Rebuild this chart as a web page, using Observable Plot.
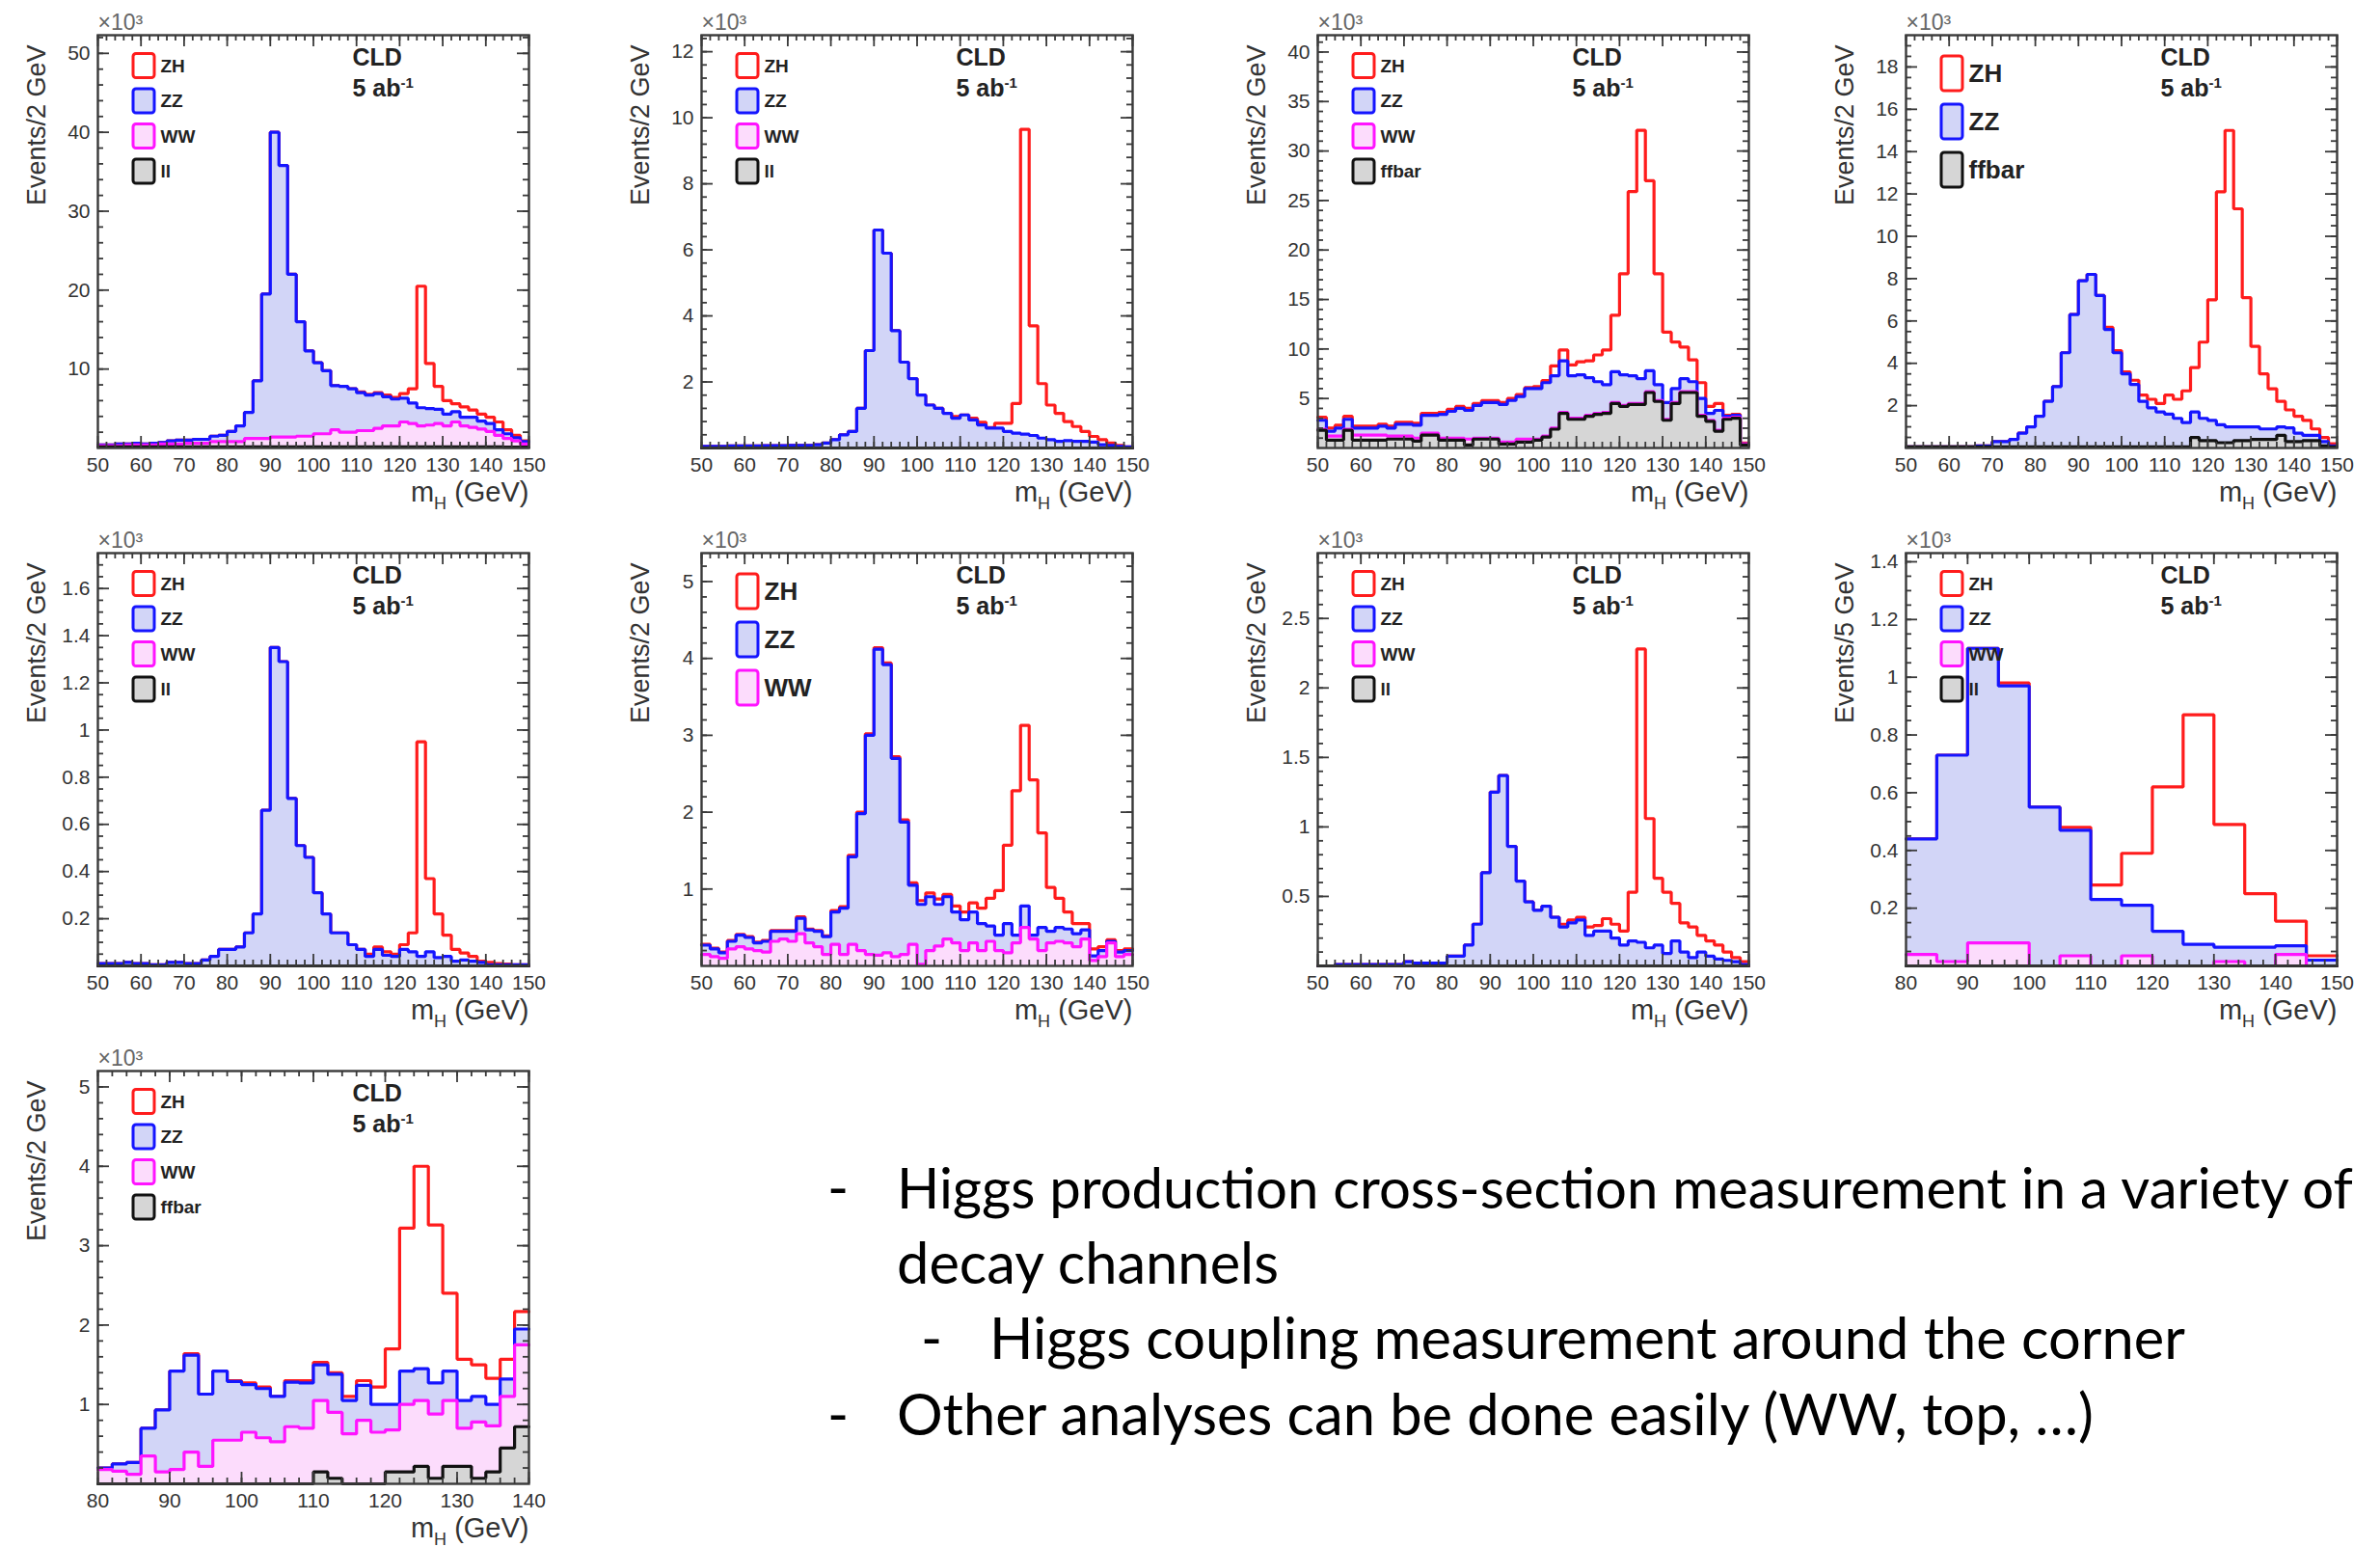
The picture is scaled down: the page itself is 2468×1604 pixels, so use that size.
<!DOCTYPE html>
<html><head><meta charset="utf-8">
<script src="https://cdn.jsdelivr.net/npm/d3@7"></script>
<script src="https://cdn.jsdelivr.net/npm/@observablehq/plot@0.6"></script>
<style>
html,body{margin:0;padding:0;background:#fff;}
body{width:2468px;height:1604px;position:relative;overflow:hidden;}
.panel{position:absolute;}
.panel svg{overflow:visible;max-width:none;background:transparent;}
</style></head><body>
<script>
// ---------------- DATA (stack levels, x10^3 events) ----------------
// bins: 2 GeV from 50 to 150 (panels 1-7), 5 GeV from 80 to 150 (panel 8), 2 GeV from 80 to 140 (panel 9)
const X_TICKS_50_150 = [50,60,70,80,90,100,110,120,130,140,150];
const X_TICKS_80_150 = [80,90,100,110,120,130,140,150];
const X_TICKS_80_140 = [80,90,100,110,120,130,140];

// Panel 1
const P1_ZH = [0.4,0.4,0.5,0.5,0.6,0.5,0.6,0.7,0.9,1.0, 1.0,1.1,1.1,1.5,1.6,2.1,2.8,4.5,8.5,19.5, 40.0,35.8,22.0,16.0,12.3,10.8,9.8,7.9,7.8,7.5, 7.1,6.8,7.0,6.7,6.4,6.9,7.5,20.5,10.7,7.8, 6.0,5.6,5.2,4.8,4.3,3.9,3.3,2.3,1.6,0.9];
const P1_ZZ = [0.4,0.4,0.5,0.5,0.6,0.5,0.6,0.7,0.9,1.0, 1.0,1.1,1.1,1.5,1.6,2.1,2.8,4.5,8.5,19.5, 40.0,35.8,22.0,16.0,12.3,10.8,9.8,7.9,7.8,7.5, 7.0,6.7,6.9,6.5,6.2,6.3,5.7,5.1,5.0,4.9, 4.3,4.6,3.9,3.9,3.4,3.1,2.3,1.8,1.3,0.8];
const P1_WW = [0.3,0.3,0.3,0.4,0.4,0.4,0.4,0.5,0.5,0.5, 0.6,0.6,0.6,0.8,0.8,0.8,0.8,1.2,1.2,1.2, 1.4,1.4,1.4,1.5,1.5,1.8,1.8,2.3,2.0,2.0, 2.2,2.2,2.5,2.8,2.8,3.3,3.1,2.8,2.9,3.1, 2.8,3.3,2.8,2.6,2.4,2.1,1.6,1.2,0.9,0.5];
const P1_LL = [0.15,0.15,0.15,0.15,0.15,0.15,0.15,0.15,0.15,0.15, 0.15,0.15,0.15,0.15,0.15,0.15,0.15,0.15,0.15,0.15, 0.15,0.15,0.15,0.15,0.15,0.15,0.15,0.15,0.15,0.15, 0.15,0.15,0.15,0.15,0.15,0.15,0.15,0.15,0.15,0.15, 0.15,0.15,0.15,0.15,0.15,0.15,0.15,0.1,0.1,0.1];

// Panel 2
const P2_ZH = [0.05,0.05,0.05,0.06,0.06,0.06,0.06,0.07,0.07,0.07, 0.08,0.08,0.08,0.1,0.15,0.25,0.4,0.5,1.2,2.95, 6.6,5.9,3.55,2.6,2.1,1.6,1.3,1.2,1.05,0.95, 1.0,0.9,0.78,0.62,0.75,0.75,1.35,9.65,3.7,1.95, 1.3,1.05,0.8,0.65,0.5,0.35,0.25,0.15,0.08,0.03];
const P2_ZZ = [0.05,0.05,0.05,0.06,0.06,0.06,0.06,0.07,0.07,0.07, 0.08,0.08,0.08,0.1,0.15,0.25,0.4,0.5,1.2,2.95, 6.6,5.9,3.55,2.6,2.1,1.6,1.3,1.2,1.05,0.9, 1.0,0.85,0.7,0.6,0.6,0.5,0.45,0.42,0.38,0.3, 0.25,0.2,0.22,0.2,0.2,0.18,0.1,0.08,0.05,0.03];
const P2_WW = [0,0,0,0,0,0,0,0,0,0, 0,0,0,0,0,0,0,0,0,0, 0,0,0,0,0,0,0,0,0,0, 0,0,0,0,0,0,0,0,0,0, 0,0,0,0,0,0,0,0,0,0];
const P2_LL = [0,0,0,0,0,0,0,0,0,0, 0,0,0,0,0,0,0,0,0,0, 0,0,0,0,0,0,0,0,0,0, 0,0,0,0,0,0,0,0,0,0, 0,0,0,0,0,0,0,0,0,0];

// Panel 3
const P3_ZH = [3.1,2.0,2.3,3.2,2.2,2.2,2.2,2.4,2.2,2.6, 2.6,2.5,3.5,3.5,3.6,3.9,4.2,4.0,4.5,4.8, 4.8,4.6,5.0,5.4,6.1,6.2,6.8,8.3,9.9,8.4, 8.7,8.8,9.4,9.9,13.4,17.6,25.9,32.1,27.0,17.6, 11.7,10.7,10.2,8.9,6.6,4.2,4.5,3.3,3.4,0.5];
const P3_ZZ = [2.8,1.7,2.0,2.9,2.0,2.0,2.0,2.2,2.0,2.4, 2.4,2.3,3.3,3.3,3.4,3.7,4.0,3.8,4.3,4.6, 4.6,4.4,4.8,5.2,6.0,6.0,6.6,7.3,8.8,7.3, 7.4,7.1,6.7,6.4,7.7,7.4,7.3,7.0,7.8,6.4, 4.6,6.0,7.0,6.7,5.0,3.5,3.8,3.2,3.3,0.4];
const P3_WW = [1.9,1.2,1.2,1.9,1.3,1.3,1.3,1.3,1.2,1.2, 1.2,1.0,1.5,1.5,1.0,1.0,1.0,0.9,1.0,1.0, 1.0,0.6,0.6,0.9,0.9,0.9,1.2,2.0,3.6,3.0, 3.0,3.3,3.5,3.6,4.6,4.3,4.5,4.5,5.7,4.8, 2.9,4.6,5.7,5.7,3.3,2.8,1.8,3.0,3.1,0.4];
const P3_FF = [1.8,0.8,0.8,1.8,0.8,0.8,0.8,0.8,0.9,0.9, 0.9,0.7,1.3,1.3,0.8,0.8,0.8,0.3,0.9,0.9, 0.9,0.4,0.4,0.6,0.6,0.8,1.1,1.9,3.5,2.9, 2.9,3.2,3.4,3.5,4.5,4.2,4.4,4.4,5.6,4.7, 2.8,4.5,5.6,5.6,3.2,2.7,1.7,2.9,3.0,0.3];

// Panel 4
const P4_ZH = [0.05,0.05,0.05,0.05,0.05,0.05,0.05,0.05,0.1,0.1, 0.3,0.3,0.4,0.7,1.0,1.5,2.2,2.9,4.5,6.3, 7.9,8.2,7.2,5.7,4.6,3.6,3.2,2.5,2.3,2.1, 2.5,2.3,2.7,3.8,5.0,7.0,12.1,15.0,11.3,7.1, 4.8,3.5,2.8,2.2,1.8,1.5,1.3,0.9,0.5,0.2];
const P4_ZZ = [0.05,0.05,0.05,0.05,0.05,0.05,0.05,0.05,0.1,0.1, 0.3,0.3,0.4,0.7,1.0,1.5,2.2,2.9,4.5,6.3, 7.9,8.2,7.2,5.6,4.5,3.5,3.0,2.2,1.9,1.7, 1.6,1.4,1.2,1.7,1.4,1.3,1.1,1.0,1.0,1.0, 1.0,0.9,0.9,1.0,0.95,0.7,0.6,0.6,0.3,0.1];
const P4_FF = [0.05,0.05,0.05,0.05,0.05,0.05,0.05,0.05,0.05,0.05, 0.05,0.05,0.05,0.05,0.05,0.05,0.05,0.05,0.05,0.05, 0.05,0.05,0.05,0.05,0.05,0.05,0.05,0.05,0.05,0.05, 0.05,0.05,0.05,0.5,0.35,0.35,0.25,0.25,0.35,0.35, 0.4,0.4,0.4,0.6,0.3,0.3,0.35,0.35,0.1,0.05];

// Panel 5
const P5_ZH = [0.01,0.01,0.01,0.015,0.01,0.01,0.005,0.005,0.015,0.015, 0.01,0.01,0.025,0.04,0.07,0.07,0.08,0.14,0.22,0.66, 1.35,1.29,0.71,0.51,0.46,0.31,0.22,0.14,0.14,0.09, 0.07,0.05,0.08,0.06,0.05,0.09,0.14,0.95,0.37,0.22, 0.13,0.07,0.055,0.04,0.02,0.015,0.01,0.008,0.005,0.005];
const P5_ZZ = [0.01,0.01,0.01,0.015,0.01,0.01,0.005,0.005,0.015,0.015, 0.01,0.01,0.025,0.04,0.07,0.07,0.08,0.14,0.22,0.66, 1.35,1.29,0.71,0.51,0.46,0.31,0.22,0.14,0.14,0.09, 0.07,0.04,0.07,0.045,0.04,0.07,0.06,0.04,0.06,0.035, 0.04,0.02,0.025,0.02,0.015,0.005,0.005,0.005,0.005,0.005];
const P5_WW = [0,0,0,0,0,0,0,0,0,0, 0,0,0,0,0,0,0,0,0,0, 0,0,0,0,0,0,0,0,0,0, 0,0,0,0,0,0,0,0,0,0, 0,0,0,0,0,0,0,0,0,0];
const P5_LL = [0,0,0,0,0,0,0,0,0,0, 0,0,0,0,0,0,0,0,0,0, 0,0,0,0,0,0,0,0,0,0, 0,0,0,0,0,0,0,0,0,0, 0,0,0,0,0,0,0,0,0,0];

// Panel 6
const P6_ZH = [0.28,0.23,0.18,0.33,0.41,0.38,0.31,0.33,0.46,0.46, 0.46,0.64,0.48,0.46,0.39,0.72,0.77,1.44,2.0,3.02, 4.14,3.94,2.72,1.9,1.08,0.85,0.95,0.87,0.93,0.78, 0.7,0.82,0.75,0.88,0.98,1.57,2.28,3.13,2.42,1.73, 1.02,0.88,0.7,0.55,0.55,0.22,0.25,0.34,0.2,0.22];
const P6_ZZ = [0.27,0.22,0.17,0.32,0.4,0.37,0.3,0.32,0.45,0.45, 0.45,0.62,0.47,0.45,0.38,0.7,0.75,1.42,1.98,3.0, 4.12,3.92,2.7,1.87,1.05,0.8,0.9,0.8,0.9,0.7, 0.6,0.7,0.55,0.52,0.4,0.55,0.4,0.78,0.4,0.5, 0.45,0.5,0.48,0.42,0.47,0.13,0.2,0.32,0.18,0.2];
const P6_WW = [0.15,0.12,0.1,0.22,0.25,0.22,0.2,0.18,0.32,0.35, 0.32,0.42,0.3,0.25,0.15,0.28,0.15,0.28,0.2,0.15, 0.14,0.17,0.12,0.15,0.28,0.02,0.2,0.26,0.35,0.3, 0.2,0.3,0.2,0.32,0.2,0.17,0.3,0.5,0.35,0.2, 0.3,0.32,0.3,0.25,0.35,0.07,0.12,0.3,0.12,0.15];

// Panel 7
const P7_ZH = [0,0,0.01,0.01,0.01,0.01,0.01,0.01,0.01,0.01, 0.03,0.02,0.02,0.02,0.02,0.07,0.07,0.15,0.3,0.67, 1.25,1.37,0.86,0.61,0.46,0.4,0.43,0.35,0.3,0.33, 0.35,0.28,0.29,0.34,0.3,0.25,0.53,2.28,1.06,0.63, 0.53,0.45,0.31,0.28,0.22,0.18,0.15,0.1,0.06,0.03];
const P7_ZZ = [0,0,0.01,0.01,0.01,0.01,0.01,0.01,0.01,0.01, 0.03,0.02,0.02,0.02,0.02,0.07,0.07,0.15,0.3,0.67, 1.25,1.37,0.86,0.61,0.46,0.4,0.43,0.35,0.28,0.31, 0.33,0.22,0.25,0.25,0.2,0.15,0.18,0.17,0.13,0.15, 0.09,0.18,0.1,0.06,0.1,0.07,0.05,0.04,0.03,0.01];
const P7_WW = [0,0,0,0,0,0,0,0,0,0, 0,0,0,0,0,0,0,0,0,0, 0,0,0,0,0,0,0,0,0,0, 0,0,0,0,0,0,0,0,0,0, 0,0,0,0,0,0,0,0,0,0];
const P7_LL = [0,0,0,0,0,0,0,0,0,0, 0,0,0,0,0,0,0,0,0,0, 0,0,0,0,0,0,0,0,0,0, 0,0,0,0,0,0,0,0,0,0, 0,0,0,0,0,0,0,0,0,0];

// Panel 8 (5 GeV bins, 80-150)
const P8_ZH = [0.44,0.73,1.1,0.98,0.55,0.48,0.28,0.39,0.62,0.87,0.49,0.25,0.155,0.035];
const P8_ZZ = [0.44,0.73,1.1,0.97,0.55,0.47,0.23,0.21,0.12,0.075,0.065,0.065,0.07,0.02];
const P8_WW = [0.04,0.015,0.08,0.08,0,0.035,0,0.035,0,0,0.015,0,0.04,0];
const P8_LL = [0,0,0,0,0,0,0,0,0,0,0,0,0,0];

// Panel 9 (2 GeV bins, 80-140)
const P9_ZH = [0.2,0.25,0.27,0.7,0.93,1.42,1.64,1.13,1.42,1.3, 1.27,1.22,1.1,1.3,1.3,1.53,1.4,1.1,1.3,1.22, 1.7,3.22,4.0,3.26,2.4,1.57,1.5,1.33,1.57,2.17];
const P9_ZZ = [0.2,0.25,0.27,0.7,0.93,1.42,1.62,1.13,1.42,1.29, 1.25,1.2,1.1,1.28,1.27,1.5,1.38,1.05,1.24,1.0, 1.0,1.42,1.45,1.27,1.42,1.05,1.1,1.0,1.32,1.95];
const P9_WW = [0.18,0.16,0.12,0.35,0.15,0.18,0.4,0.22,0.55,0.55, 0.65,0.58,0.53,0.72,0.7,1.05,0.9,0.63,0.8,0.65, 0.68,1.0,1.05,0.88,1.05,0.7,0.78,0.73,1.1,1.75];
const P9_FF = [0,0,0,0,0,0,0,0,0,0, 0,0,0,0,0,0.15,0.07,0,0,0, 0.15,0.15,0.22,0.07,0.22,0.22,0.07,0.15,0.45,0.72];

const NOTE_LINES = [
  {bullet: "-", text: "Higgs production cross-section measurement in a variety of", level: 0},
  {bullet: "",  text: "decay channels", level: 0},
  {bullet: "-", text: "Higgs coupling measurement around the corner", level: 1},
  {bullet: "-", text: "Other analyses can be done easily (WW, top, \u2026)", level: 0}
];

// ---------------- STYLE / LAYOUT ----------------
const STYLE = {
  ZH:    {stroke: "#ff1c1c", fill: null,      box: "#ffffff"},
  ZZ:    {stroke: "#1515ff", fill: "#d2d5f7", box: "#d2d5f7"},
  WW:    {stroke: "#ff14ff", fill: "#fcdcfc", box: "#fcdcfc"},
  ll:    {stroke: "#111111", fill: "#d6d6d6", box: "#d6d6d6"},
  ffbar: {stroke: "#111111", fill: "#d6d6d6", box: "#d6d6d6"}
};
const FRAME_W = 447, FRAME_H = 428;
const COL_X = [101, 727, 1366, 1976];
const ROW_Y = [36, 573, 1110];
const FONT = "'Liberation Sans', Arial, Helvetica, sans-serif";
const NS = "http://www.w3.org/2000/svg";

const E2_50 = d3.range(50, 150.0001, 2);
const E5_80 = d3.range(80, 150.0001, 5);
const E2_80 = d3.range(80, 140.0001, 2);

const PANELS = [
  {col:0,row:0,edges:E2_50,xTicks:X_TICKS_50_150,yMax:52.3,yTicks:[10,20,30,40,50],yMinor:2,yTitle:"Events/2 GeV",big:false,
   layers:[["ZH",P1_ZH],["ZZ",P1_ZZ],["WW",P1_WW],["ll",P1_LL]],legend:["ZH","ZZ","WW","ll"]},
  {col:1,row:0,edges:E2_50,xTicks:X_TICKS_50_150,yMax:12.5,yTicks:[2,4,6,8,10,12],yMinor:0.4,yTitle:"Events/2 GeV",big:false,
   layers:[["ZH",P2_ZH],["ZZ",P2_ZZ],["WW",P2_WW],["ll",P2_LL]],legend:["ZH","ZZ","WW","ll"]},
  {col:2,row:0,edges:E2_50,xTicks:X_TICKS_50_150,yMax:41.7,yTicks:[5,10,15,20,25,30,35,40],yMinor:1,yTitle:"Events/2 GeV",big:false,
   layers:[["ZH",P3_ZH],["ZZ",P3_ZZ],["WW",P3_WW],["ffbar",P3_FF]],legend:["ZH","ZZ","WW","ffbar"]},
  {col:3,row:0,edges:E2_50,xTicks:X_TICKS_50_150,yMax:19.5,yTicks:[2,4,6,8,10,12,14,16,18],yMinor:0.5,yTitle:"Events/2 GeV",big:true,
   layers:[["ZH",P4_ZH],["ZZ",P4_ZZ],["ffbar",P4_FF]],legend:["ZH","ZZ","ffbar"]},
  {col:0,row:1,edges:E2_50,xTicks:X_TICKS_50_150,yMax:1.75,yTicks:[0.2,0.4,0.6,0.8,1,1.2,1.4,1.6],yMinor:0.05,yTitle:"Events/2 GeV",big:false,
   layers:[["ZH",P5_ZH],["ZZ",P5_ZZ],["WW",P5_WW],["ll",P5_LL]],legend:["ZH","ZZ","WW","ll"]},
  {col:1,row:1,edges:E2_50,xTicks:X_TICKS_50_150,yMax:5.37,yTicks:[1,2,3,4,5],yMinor:0.2,yTitle:"Events/2 GeV",big:true,
   layers:[["ZH",P6_ZH],["ZZ",P6_ZZ],["WW",P6_WW]],legend:["ZH","ZZ","WW"]},
  {col:2,row:1,edges:E2_50,xTicks:X_TICKS_50_150,yMax:2.97,yTicks:[0.5,1,1.5,2,2.5],yMinor:0.1,yTitle:"Events/2 GeV",big:false,
   layers:[["ZH",P7_ZH],["ZZ",P7_ZZ],["WW",P7_WW],["ll",P7_LL]],legend:["ZH","ZZ","WW","ll"]},
  {col:3,row:1,edges:E5_80,xTicks:X_TICKS_80_150,yMax:1.43,yTicks:[0.2,0.4,0.6,0.8,1,1.2,1.4],yMinor:0.05,yTitle:"Events/5 GeV",big:false,
   layers:[["ZH",P8_ZH],["ZZ",P8_ZZ],["WW",P8_WW],["ll",P8_LL]],legend:["ZH","ZZ","WW","ll"]},
  {col:0,row:2,edges:E2_80,xTicks:X_TICKS_80_140,yMax:5.2,yTicks:[1,2,3,4,5],yMinor:0.2,yTitle:"Events/2 GeV",big:false,
   layers:[["ZH",P9_ZH],["ZZ",P9_ZZ],["WW",P9_WW],["ffbar",P9_FF]],legend:["ZH","ZZ","WW","ffbar"]}
];

function stepPoints(edges, vals) {
  const pts = vals.map((v, i) => ({x: edges[i], y: v}));
  pts.push({x: edges[vals.length], y: vals[vals.length - 1]});
  return pts;
}

function richText(svg) {
  for (const t of svg.querySelectorAll("text")) {
    const s = t.textContent;
    if (s === "m_H (GeV)") {
      t.textContent = "m";
      const a = document.createElementNS(NS, "tspan");
      a.setAttribute("dy", "8"); a.setAttribute("font-size", "18"); a.textContent = "H";
      const b = document.createElementNS(NS, "tspan");
      b.setAttribute("dy", "-8"); b.textContent = " (GeV)";
      t.append(a, b);
    } else if (s === "5 ab^-1") {
      t.textContent = "5 ab";
      const a = document.createElementNS(NS, "tspan");
      a.setAttribute("dy", "-9"); a.setAttribute("font-size", "15"); a.textContent = "-1";
      t.append(a);
    }
  }
}

function drawPanel(cfg) {
  const mL = 101, mR = 45, mT = 40, mB = 85;
  const edges = cfg.edges;
  const x0 = edges[0], x1 = edges[edges.length - 1];
  const yMax = cfg.yMax;
  const kx = (x1 - x0) / FRAME_W, ky = yMax / FRAME_H;
  const TICK = "#3a3a3a";
  const marks = [];

  // stacked histograms, top of the stack first
  cfg.layers.forEach(([key, vals]) => {
    const st = STYLE[key];
    const pts = stepPoints(edges, vals);
    if (st.fill) marks.push(Plot.areaY(pts, {x: "x", y1: 0, y2: "y", curve: "step-after", fill: st.fill}));
    marks.push(Plot.lineY(pts, {x: "x", y: "y", curve: "step-after", stroke: st.stroke, strokeWidth: 3.2, strokeLinejoin: "miter"}));
  });

  // ROOT-style inward ticks on all four sides
  const xMinor = d3.range(x0, x1 + 1e-6, 2);
  const yMinor = d3.range(cfg.yMinor, yMax, cfg.yMinor);
  const tk = {stroke: TICK, strokeWidth: 1.8};
  marks.push(
    Plot.ruleX(xMinor, {x: d => d, y1: 0, y2: 6 * ky, ...tk}),
    Plot.ruleX(xMinor, {x: d => d, y1: yMax, y2: yMax - 6 * ky, ...tk}),
    Plot.ruleX(cfg.xTicks, {x: d => d, y1: 0, y2: 12 * ky, ...tk}),
    Plot.ruleX(cfg.xTicks, {x: d => d, y1: yMax, y2: yMax - 12 * ky, ...tk}),
    Plot.ruleY(yMinor, {y: d => d, x1: x0, x2: x0 + 6 * kx, ...tk}),
    Plot.ruleY(yMinor, {y: d => d, x1: x1, x2: x1 - 6 * kx, ...tk}),
    Plot.ruleY(cfg.yTicks, {y: d => d, x1: x0, x2: x0 + 12 * kx, ...tk}),
    Plot.ruleY(cfg.yTicks, {y: d => d, x1: x1, x2: x1 - 12 * kx, ...tk})
  );

  marks.push(
    Plot.axisX({ticks: cfg.xTicks, anchor: "bottom", tickSize: 0, tickPadding: 10, fontSize: 21, tickFormat: d => String(d), label: null, fill: "#333"}),
    Plot.axisY({ticks: cfg.yTicks, anchor: "left", tickSize: 0, tickPadding: 8, fontSize: 21, tickFormat: d => String(d), label: null, fill: "#333"}),
    Plot.frame({stroke: TICK, strokeWidth: 2.4})
  );

  // titles
  marks.push(
    Plot.text([cfg.yTitle], {text: d => d, frameAnchor: "top-left", dx: -74, dy: 10, rotate: -90, textAnchor: "end", fontSize: 27, fill: "#333"}),
    Plot.text(["m_H (GeV)"], {text: d => d, frameAnchor: "bottom-right", dy: 55, textAnchor: "end", fontSize: 29, fill: "#333"}),
    Plot.text(["\u00d710\u00b3"], {text: d => d, frameAnchor: "top-left", dx: 0, dy: -22, textAnchor: "start", fontSize: 23, fill: "#666"}),
    Plot.text(["CLD"], {text: d => d, frameAnchor: "top-left", dx: 264, dy: 14, textAnchor: "start", fontSize: 25, fontWeight: "bold", fill: "#222"}),
    Plot.text(["5 ab^-1"], {text: d => d, frameAnchor: "top-left", dx: 264, dy: 46, textAnchor: "start", fontSize: 25, fontWeight: "bold", fill: "#222"})
  );

  // legend
  const L = cfg.big ? {y0: 40, step: 50, bh: 36, fs: 26} : {y0: 32, step: 36.5, bh: 25, fs: 19};
  const entries = cfg.legend.map((k, i) => ({key: k, cy: L.y0 + i * L.step}));
  entries.forEach(e => {
    const st = STYLE[e.key];
    marks.push(Plot.rect([e], {
      x1: x0 + 37 * kx, x2: x0 + 59 * kx,
      y1: yMax - (e.cy - L.bh / 2) * ky, y2: yMax - (e.cy + L.bh / 2) * ky,
      fill: st.box, stroke: st.stroke, strokeWidth: 3, rx: 3
    }));
  });
  marks.push(Plot.text(entries, {
    x: () => x0 + 65 * kx, y: d => yMax - d.cy * ky, text: "key",
    textAnchor: "start", fontSize: L.fs, fontWeight: "bold", fill: "#222"
  }));

  const svg = Plot.plot({
    width: mL + FRAME_W + mR, height: mT + FRAME_H + mB,
    marginLeft: mL, marginRight: mR, marginTop: mT, marginBottom: mB,
    x: {domain: [x0, x1]}, y: {domain: [0, yMax]},
    style: {fontFamily: FONT, fontSize: "21px", color: "#333", background: "transparent", overflow: "visible"},
    marks
  });
  richText(svg);
  const div = document.createElement("div");
  div.className = "panel";
  div.style.left = (COL_X[cfg.col] - mL) + "px";
  div.style.top = (ROW_Y[cfg.row] - mT) + "px";
  div.style.width = (mL + FRAME_W + mR) + "px";
  div.appendChild(svg);
  document.body.appendChild(div);
}

PANELS.forEach(drawPanel);

// ---------------- bullet notes ----------------
(function () {
  const ctx = document.createElement("canvas").getContext("2d");
  ctx.font = "100px Lato";
  const w = ctx.measureText(NOTE_LINES[2].text).width;
  const fs = w > 0 ? 100 * 1240 / w : 58;
  const svg = d3.select("body").append("svg")
    .attr("width", 2468).attr("height", 1604)
    .style("position", "absolute").style("left", "0px").style("top", "0px")
    .style("pointer-events", "none");
  const baselines = [1253, 1331, 1409, 1488];
  const bulletX = [858, 955], textX = [930, 1026];
  const maxRight = 2440;
  NOTE_LINES.forEach((ln, i) => {
    if (ln.bullet) svg.append("text").attr("x", bulletX[ln.level]).attr("y", baselines[i])
      .attr("font-family", "Lato, sans-serif").attr("font-size", fs).attr("fill", "#000").text(ln.bullet);
    const t = svg.append("text").attr("x", textX[ln.level]).attr("y", baselines[i])
      .attr("font-family", "Lato, sans-serif").attr("font-size", fs).attr("fill", "#000").text(ln.text);
    const len = t.node().getComputedTextLength();
    const avail = maxRight - textX[ln.level];
    if (len > avail) t.attr("font-size", fs * avail / len);
  });
})();
</script>
</body></html>
